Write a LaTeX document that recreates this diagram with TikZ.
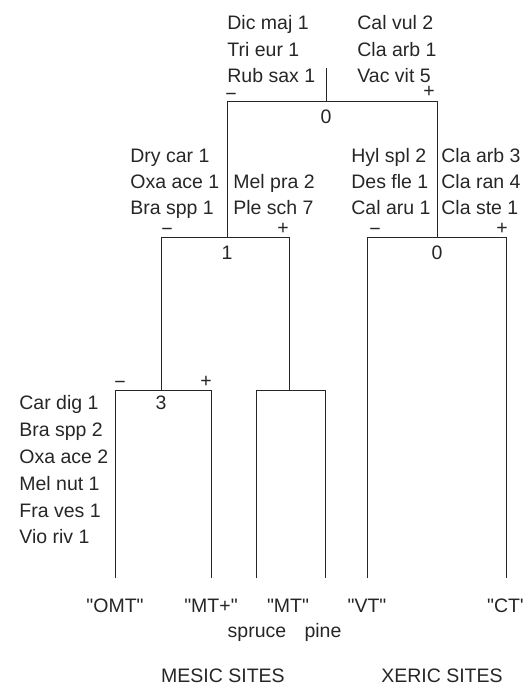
\documentclass[tikz,border=0pt]{standalone}
\usepackage{fontspec}
\setmainfont{Liberation Sans}[Ligatures=TeXOff]
\begin{document}
\begin{tikzpicture}[x=1pt,y=-1pt,
  line width=0.8pt,
  ln/.style={draw=black!85},
  txt/.style={anchor=base west,inner sep=0pt,text=black!85,font=\fontsize{19.5}{20}\selectfont},
  cen/.style={anchor=base,inner sep=0pt,text=black!85,font=\fontsize{19.5}{20}\selectfont},
  mid/.style={anchor=center,inner sep=0pt,text=black!85,font=\fontsize{19.5}{20}\selectfont}]
\clip (0,0) rectangle (523,686);
% junction coordinates
\coordinate (rtop) at (326,68);
\coordinate (rmid) at (326,101);
\coordinate (rL) at (227,101);
\coordinate (rR) at (437,101);
\coordinate (aL) at (227,237);
\coordinate (aLl) at (161,237);
\coordinate (aLr) at (289,237);
\coordinate (bR) at (437,237);
\coordinate (bRl) at (367,237);
\coordinate (bRr) at (506,237);
\coordinate (cL) at (161,390);
\coordinate (cLl) at (115,390);
\coordinate (cLr) at (211,390);
\coordinate (dR) at (289,390);
\coordinate (dRl) at (256,390);
\coordinate (dRr) at (325,390);
\coordinate (omt) at (115,578);
\coordinate (mtp) at (211,578);
\coordinate (spr) at (256,578);
\coordinate (pin) at (325,578);
\coordinate (vt) at (367,578);
\coordinate (ct) at (506,578);
% tree
\draw[ln] (rtop) -- (rmid);
\draw[ln] (aL) -- (rL) -- (rR) -- (bR);
\draw[ln] (cL) -- (aLl) -- (aLr) -- (dR);
\draw[ln] (vt) -- (bRl) -- (bRr) -- (ct);
\draw[ln] (omt) -- (cLl) -- (cLr) -- (mtp);
\draw[ln] (spr) -- (dRl) -- (dRr) -- (pin);
% top species
\node[txt] (t1) at (227,29) {Dic maj 1};
\node[txt] (t2) at (227,56) {Tri eur 1};
\node[txt] (t3) at (227,82) {Rub sax 1};
\node[txt] (t4) at (357,29) {Cal vul 2};
\node[txt] (t5) at (357,56) {Cla arb 1};
\node[txt] (t6) at (357,82) {Vac vit 5};
\node[cen] (m0) at (231,100) {−};
\node[cen] (p0) at (429,97) {+};
\node[mid] (n0) at (326,117) {0};
% level 1 left
\node[txt] (l1) at (130,162) {Dry car 1};
\node[txt] (l2) at (130,188) {Oxa ace 1};
\node[txt] (l3) at (130,214) {Bra spp 1};
\node[txt] (l4) at (233,188) {Mel pra 2};
\node[txt] (l5) at (233,214) {Ple sch 7};
\node[cen] (m1) at (167,235) {−};
\node[cen] (p1) at (283,234) {+};
\node[mid] (n1) at (227,253) {1};
% level 1 right
\node[txt] (r1) at (351,162) {Hyl spl 2};
\node[txt] (r2) at (351,188) {Des fle 1};
\node[txt] (r3) at (351,214) {Cal aru 1};
\node[txt] (r4) at (441,162) {Cla arb 3};
\node[txt] (r5) at (441,188) {Cla ran 4};
\node[txt] (r6) at (441,214) {Cla ste 1};
\node[cen] (m2) at (375,235) {−};
\node[cen] (p2) at (502,234) {+};
\node[mid] (n2) at (437,253) {0};
% level 2 left
\node[txt] (b1) at (19,409) {Car dig 1};
\node[txt] (b2) at (19,436) {Bra spp 2};
\node[txt] (b3) at (19,463) {Oxa ace 2};
\node[txt] (b4) at (19,490) {Mel nut 1};
\node[txt] (b5) at (19,517) {Fra ves 1};
\node[txt] (b6) at (19,543) {Vio riv 1};
\node[cen] (m3) at (120,388) {−};
\node[cen] (p3) at (206,387) {+};
\node[mid] (n3) at (161,403) {3};
% leaf labels
\node[cen] (L1) at (115,612) {"OMT"};
\node[cen] (L2) at (211,612) {"MT+"};
\node[cen] (L3) at (288,612) {"MT"};
\node[cen] (L4) at (367,612) {"VT"};
\node[cen] (L5) at (507,612) {"CT"};
\node[cen] (s1) at (257,637) {spruce};
\node[cen] (s2) at (323,637) {pine};
\node[cen] (g1) at (223,682) {MESIC SITES};
\node[cen] (g2) at (442,682) {XERIC SITES};
\end{tikzpicture}
\end{document}
